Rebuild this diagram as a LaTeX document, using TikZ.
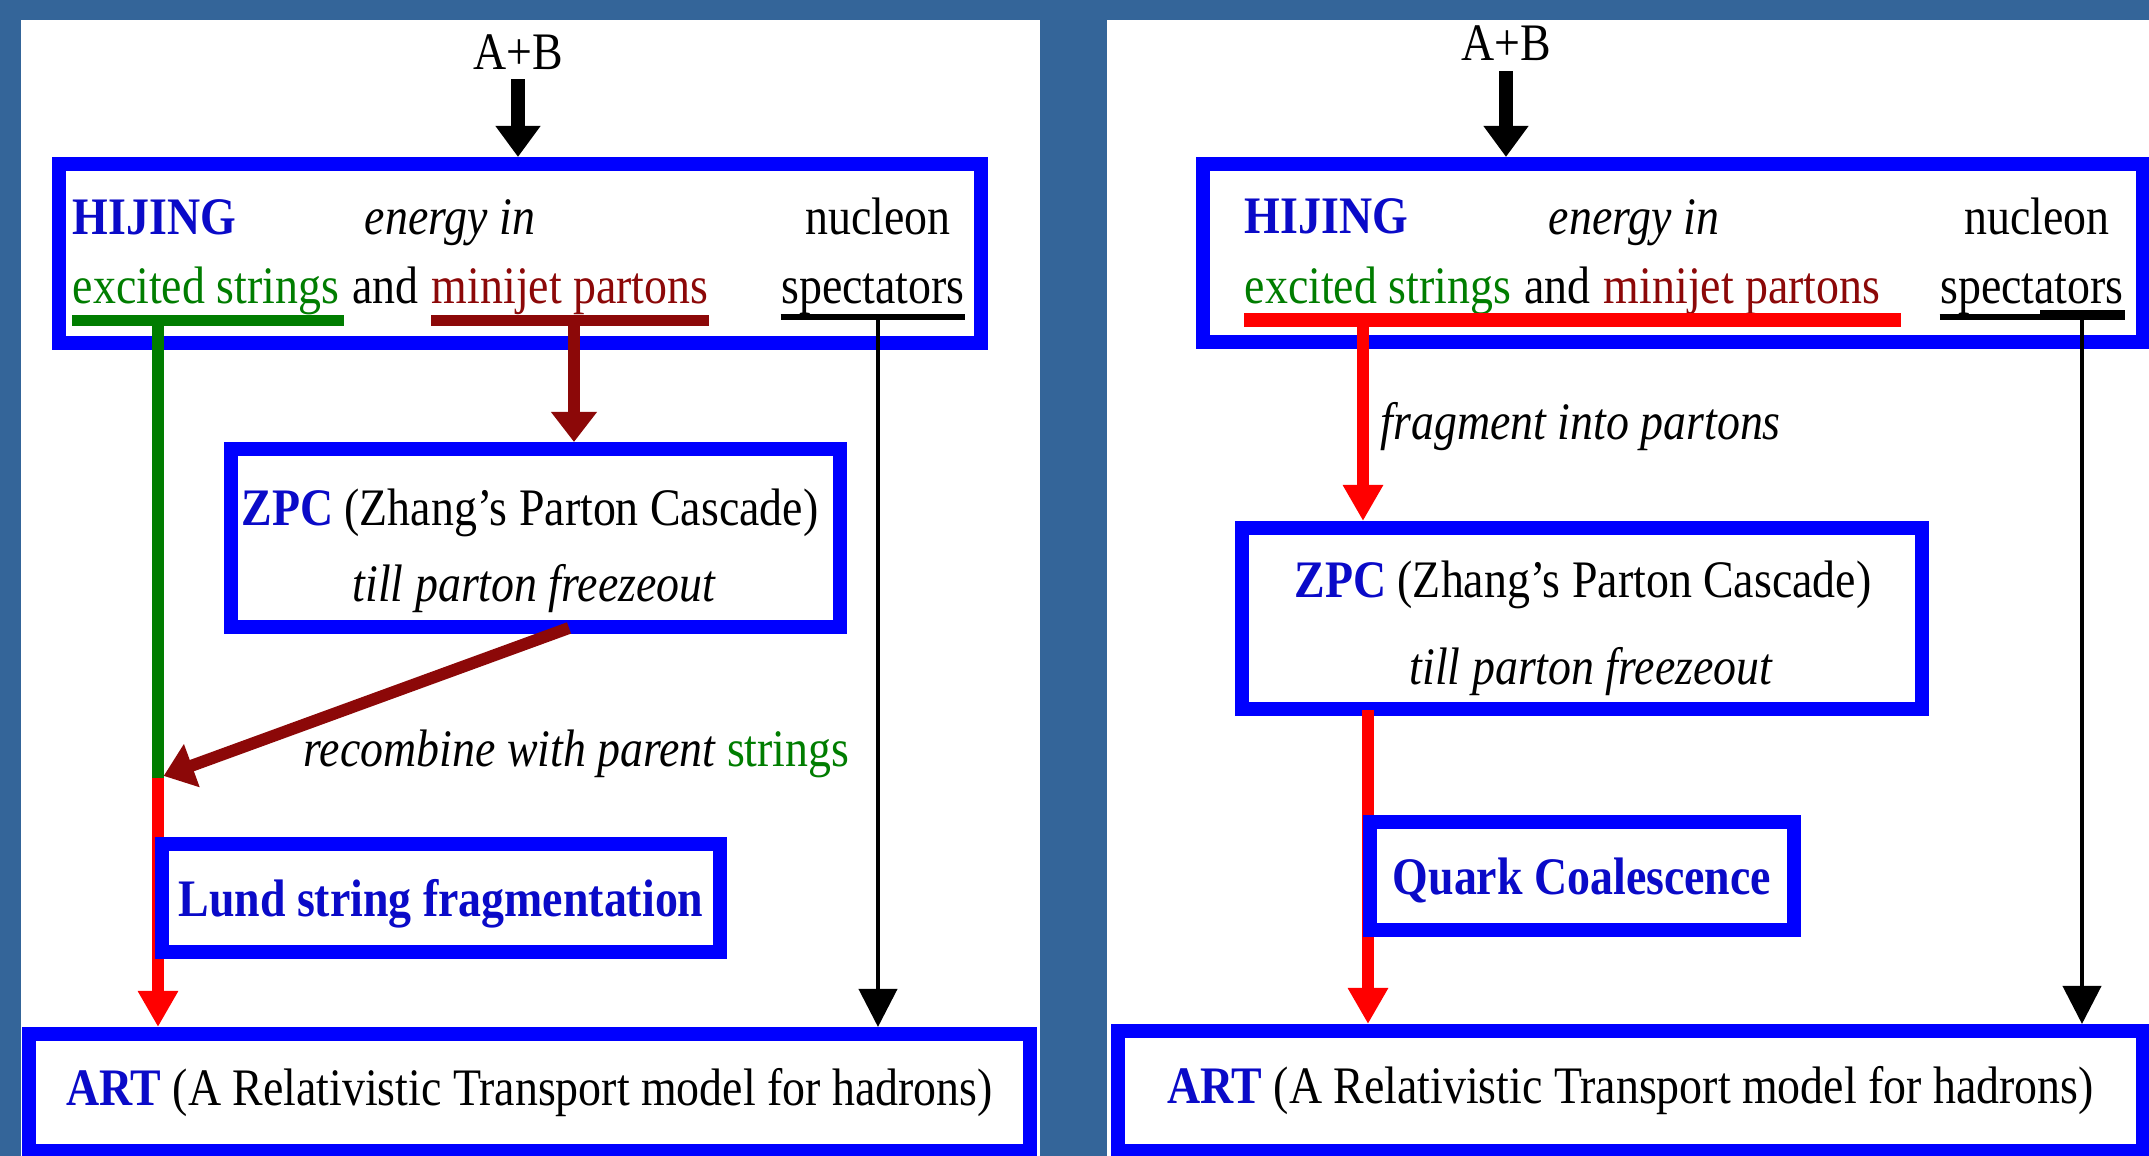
\documentclass[tikz,border=0pt]{standalone}
\usepackage{fontspec}
\setmainfont[FakeStretch=0.87]{Liberation Serif}
\usepackage{xcolor}
\usepackage{tikz}
\usetikzlibrary{arrows.meta, positioning}

\definecolor{slide}{RGB}{52,101,153}
\definecolor{boxblue}{RGB}{0,0,255}
\definecolor{txtblue}{RGB}{10,10,200}
\definecolor{strgreen}{RGB}{0,125,0}
\definecolor{jetred}{RGB}{140,8,8}
\definecolor{hadred}{RGB}{255,0,0}
\newcommand{\figfont}{\fontsize{15}{18}\selectfont}

\begin{document}
\begin{tikzpicture}[
        box/.style={draw=boxblue, line width=0.14cm, fill=white, inner sep=0pt,
                    align=center, font=\figfont},
        txt/.style={inner sep=0pt, font=\figfont},
        bigarr/.style={-{Triangle[width=0.43cm, length=0.31cm]}, line width=0.14cm},
        jetarr/.style={jetred, -{Triangle[width=0.44cm, length=0.30cm]}, line width=0.12cm},
        hadarr/.style={hadred, -{Triangle[width=0.38cm, length=0.36cm]}, line width=0.12cm},
        spcarr/.style={-{Triangle[width=0.38cm, length=0.38cm]}, line width=0.04cm},
        bar/.style={line width=0.11cm}
      ]
        \useasboundingbox (0,0) rectangle (21.49,-11.56);
        \fill[slide] (0,0) rectangle (21.49,-11.56);
        \fill[white] (0.21,-0.20) rectangle (10.40,-11.60);
        \fill[white] (11.07,-0.20) rectangle (21.60,-11.60);

        % left: default AMPT
        \node[txt] (ab1) at (5.18,-0.52) {A+B};
        \node[box, minimum width=9.22cm, minimum height=1.79cm] (hij1) at (5.20,-2.535) {};
        \draw[bigarr] ([yshift=-0.09cm]ab1.south) -- (ab1.south |- hij1.north);
        \node[txt, anchor=base west, text=txtblue, font=\figfont\bfseries] (hj1) at (0.72,-2.35) {HIJING};
        \node[txt, anchor=base, font=\figfont\itshape] (en1) at (4.50,-2.35) {energy in};
        \node[txt, anchor=base] (nu1) at (8.78,-2.35) {nucleon};
        \node[txt, anchor=base west, text=strgreen] (es1) at (0.72,-3.04) {excited strings};
        \node[txt, base right=0.12cm of es1] (an1) {and};
        \node[txt, base right=0.12cm of an1, text=jetred] (mp1) {minijet partons};
        \node[txt, anchor=base] (sp1) at (8.73,-3.04) {spectators};
        \draw[bar, strgreen] ([yshift=-0.17cm]es1.base west) -- ([xshift=0.04cm, yshift=-0.17cm]es1.base east);
        \draw[bar, jetred] ([yshift=-0.17cm]mp1.base west) -- ([yshift=-0.17cm]mp1.base east);
        \draw[line width=0.06cm] ([yshift=-0.13cm]sp1.base west) -- ([yshift=-0.13cm]sp1.base east);
        \coordinate (g1) at (1.58,-3.22);
        \coordinate (j1) at (1.58,-7.78);
        \coordinate (m1) at (5.74,-3.22);
        \coordinate (s1) at (8.78,-3.17);
        \coordinate (z1) at (5.69,-6.28);

        \node[box, minimum width=6.09cm, minimum height=1.78cm] (zpc1) at (5.355,-5.38) {};
        \node[txt, anchor=base] (zt1) at (5.30,-5.26) {\textcolor{txtblue}{\bfseries ZPC} (Zhang's Parton Cascade)};
        \node[txt, anchor=base, font=\figfont\itshape] (zf1) at (5.34,-6.02) {till parton freezeout};
        \node[box, minimum width=10.01cm, minimum height=1.17cm] (art1) at (5.295,-10.925)
             {\textcolor{txtblue}{\bfseries ART} (A Relativistic Transport model for hadrons)};
        \draw[jetarr] (m1) -- (m1 |- zpc1.north);
        \draw[strgreen, line width=0.12cm] (g1) -- (j1);
        \draw[hadarr] (j1) -- (j1 |- art1.north);
        \draw[jetarr, shorten >=0.06cm] (z1) -- (j1);
        \draw[spcarr] (s1) -- (s1 |- art1.north);
        \node[txt, anchor=base west, font=\figfont\itshape] (rc1) at (3.03,-7.67)
             {recombine with parent \textcolor{strgreen}{\upshape strings}};
        \node[box, minimum width=5.58cm, minimum height=1.08cm, text=txtblue,
              text height=0.50cm, text depth=0.12cm,
              font=\figfont\bfseries] (lund) at (4.41,-8.98) {Lund string fragmentation};

        % right: string melting
        \node[txt] (ab2) at (15.06,-0.43) {A+B};
        \node[box, minimum width=9.40cm, minimum height=1.78cm] (hij2) at (16.73,-2.53) {};
        \draw[bigarr] ([yshift=-0.1cm]ab2.south) -- (ab2.south |- hij2.north);
        \node[txt, anchor=base west, text=txtblue, font=\figfont\bfseries] (hj2) at (12.44,-2.34) {HIJING};
        \node[txt, anchor=base, font=\figfont\itshape] (en2) at (16.34,-2.35) {energy in};
        \node[txt, anchor=base] (nu2) at (20.37,-2.35) {nucleon};
        \node[txt, anchor=base west, text=strgreen] (es2) at (12.44,-3.04) {excited strings};
        \node[txt, base right=0.12cm of es2] (an2) {and};
        \node[txt, base right=0.12cm of an2, text=jetred] (mp2) {minijet partons};
        \node[txt, anchor=base] (sp2) at (20.32,-3.04) {spectators};
        \draw[hadred, line width=0.14cm] ([yshift=-0.16cm]es2.base west) -- ([xshift=0.2cm, yshift=-0.16cm]mp2.base east);
        \draw[line width=0.06cm] ([yshift=-0.13cm]sp2.base west) -- ([yshift=-0.13cm]sp2.base east);
        \draw[line width=0.10cm] (20.40,-3.15) -- (21.25,-3.15);
        \coordinate (f2) at (13.63,-3.22);
        \coordinate (s2) at (20.82,-3.17);
        \coordinate (z2) at (13.68,-7.10);

        \node[box, minimum width=6.80cm, minimum height=1.81cm] (zpc2) at (15.82,-6.185) {};
        \node[txt, anchor=base] (zt2) at (15.83,-5.98) {\textcolor{txtblue}{\bfseries ZPC} (Zhang's Parton Cascade)};
        \node[txt, anchor=base, font=\figfont\itshape] (zf2) at (15.91,-6.85) {till parton freezeout};
        \node[box, minimum width=10.25cm, minimum height=1.20cm] (art2) at (16.305,-10.91)
             {\textcolor{txtblue}{\bfseries ART} (A Relativistic Transport model for hadrons)};
        \draw[hadarr] (f2) -- (f2 |- zpc2.north);
        \node[txt, anchor=base west, font=\figfont\itshape] (fp2) at (13.80,-4.40) {fragment into partons};
        \draw[hadarr] (z2) -- (z2 |- art2.north);
        \draw[spcarr] (s2) -- (s2 |- art2.north);
        \node[box, minimum width=4.24cm, minimum height=1.08cm, text=txtblue,
              text height=0.50cm, text depth=0.12cm,
              font=\figfont\bfseries] (qc2) at (15.82,-8.76) {Quark Coalescence};
      \end{tikzpicture}
\end{document}
